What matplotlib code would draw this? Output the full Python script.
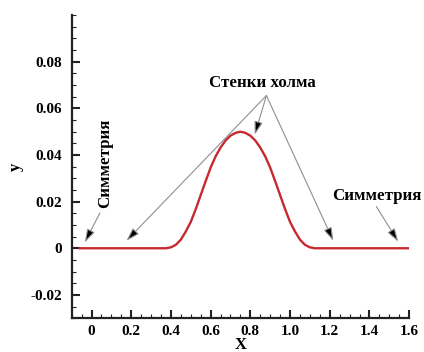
import matplotlib
matplotlib.use("Agg")
import matplotlib.pyplot as plt

# hill profile
x = [-0.06, 0.35, 0.375, 0.40, 0.425, 0.45, 0.475, 0.50, 0.525, 0.55, 0.575,
     0.60, 0.625, 0.65, 0.675, 0.70, 0.725, 0.75, 0.775, 0.80, 0.825, 0.85,
     0.875, 0.90, 0.925, 0.95, 0.975, 1.00, 1.025, 1.05, 1.075, 1.10, 1.125,
     1.15, 1.60]
y = [0.0, 0.0, 0.0000, 0.0004, 0.0015, 0.0037, 0.0072, 0.0113, 0.0168, 0.0228, 0.0288,
     0.0346, 0.0394, 0.0432, 0.0462, 0.0483, 0.0495, 0.0500, 0.0495, 0.0483, 0.0462, 0.0432,
     0.0394, 0.0346, 0.0288, 0.0228, 0.0168, 0.0113, 0.0072, 0.0037, 0.0015, 0.0004, 0.0000,
     0.0, 0.0]

xticks = [0, 0.2, 0.4, 0.6, 0.8, 1.0, 1.2, 1.4, 1.6]
xtick_labels = ["0", "0.2", "0.4", "0.6", "0.8", "1.0", "1.2", "1.4", "1.6"]
yticks = [-0.02, 0, 0.02, 0.04, 0.06, 0.08]
ytick_labels = ["-0.02", "0", "0.02", "0.04", "0.06", "0.08"]

plt.rcParams['font.family'] = ['Liberation Serif', 'DejaVu Serif']
plt.rcParams['font.weight'] = 'bold'

fig = plt.figure(figsize=(4.24, 3.52), dpi=100)
ax = fig.add_axes([0.169, 0.096, 0.796, 0.861])

ax.plot(x, y, color='#c62a2f', lw=1.7)

ax.set_xlim(-0.1, 1.6)
ax.set_ylim(-0.03, 0.1)
ax.set_xticks(xticks)
ax.set_xticklabels(xtick_labels)
ax.set_yticks(yticks)
ax.set_yticklabels(ytick_labels)
ax.set_xticks([i * 0.05 - 0.1 for i in range(35)], minor=True)
ax.set_yticks([i * 0.005 - 0.03 for i in range(27)], minor=True)

for s in ['top', 'right']:
    ax.spines[s].set_visible(False)
for s in ['left', 'bottom']:
    ax.spines[s].set_linewidth(1.6)
    ax.spines[s].set_color('#222222')

ax.tick_params(which='major', direction='in', length=6, width=1.5, labelsize=11, colors='#222222')
ax.tick_params(which='minor', direction='in', length=3, width=0.8, colors='#222222')
ax.tick_params(axis='y', which='major', pad=7)
ax.tick_params(axis='x', which='major', pad=5)
for lab in ax.get_xticklabels() + ax.get_yticklabels():
    lab.set_color('black')
    lab.set_fontweight('bold')

ax.set_xlabel('X', fontsize=12, fontweight='bold', labelpad=-1)
ax.set_ylabel('y', fontsize=12, fontweight='bold', labelpad=5)

arrow = dict(arrowstyle='-|>,head_length=0.8,head_width=0.25',
             ec='#8f8f8f', fc='black', lw=0.8, shrinkA=0, shrinkB=0)

ax.text(0.863, 0.0707, 'Стенки холма', ha='center', va='center',
        fontsize=12.2, fontweight='bold')
src = (0.881, 0.0655)
for tip in [(0.176, 0.0032), (0.822, 0.0487), (1.218, 0.0032)]:
    ax.annotate('', xy=tip, xytext=src, arrowprops=arrow)

ax.text(0.067, 0.0365, 'Симметрия', rotation=90, ha='center', va='center',
        fontsize=12.2, fontweight='bold')
ax.annotate('', xy=(-0.034, 0.0025), xytext=(0.042, 0.0151), arrowprops=arrow)

ax.text(1.435, 0.0225, 'Симметрия', ha='center', va='center',
        fontsize=12.2, fontweight='bold')
ax.annotate('', xy=(1.545, 0.0028), xytext=(1.435, 0.0179), arrowprops=arrow)

fig.savefig('out.png', dpi=100)
